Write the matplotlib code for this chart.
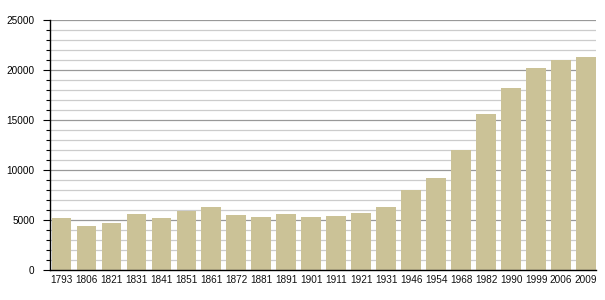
#!/usr/bin/env python3

import numpy as np
import matplotlib.pyplot as plt
from matplotlib.ticker import MultipleLocator

years = ['1793', '1806', '1821', '1831', '1841', '1851', '1861', '1872', '1881', '1891', '1901',
         '1911', '1921', '1931', '1946', '1954', '1968', '1982', '1990', '1999', '2006', '2009']
population = [5200, 4400, 4730, 5600, 5200, 5900, 6270, 5500, 5300, 5600, 5300,
              5400, 5730, 6300, 7970, 9200, 12000, 15600, 18200, 20200, 21000, 21300]

plt.rcParams['font.family'] = ['Liberation Sans', 'DejaVu Sans']

fig = plt.figure(figsize=(6.05, 3.0), dpi=100, facecolor='white')
ax = fig.add_axes([50/605, 30/300, 546/605, 250/300])

x = np.arange(len(years))
ax.bar(x, population, width=0.79, color='#cbc297', zorder=3)

ax.set_xlim(-0.46, len(years) - 0.6)
ax.set_ylim(0, 25000)

ax.yaxis.set_major_locator(MultipleLocator(5000))
ax.yaxis.set_minor_locator(MultipleLocator(1000))
ax.grid(axis='y', which='major', color='#999999', linewidth=0.9, zorder=1)
ax.grid(axis='y', which='minor', color='#cccccc', linewidth=0.9, zorder=1)

ax.set_xticks(x)
ax.set_xticklabels(years)
ax.tick_params(axis='x', length=0, pad=3.5, labelsize=7.2, colors='#111111')
ax.tick_params(axis='y', which='major', length=5, width=0.8, pad=6, labelsize=7.2)
ax.tick_params(axis='y', which='minor', length=3, width=0.8)

for side in ['top', 'right']:
    ax.spines[side].set_visible(False)
ax.spines['left'].set_linewidth(1.0)
ax.spines['bottom'].set_linewidth(1.0)
ax.spines['left'].set_zorder(4)
ax.spines['bottom'].set_zorder(4)

fig.savefig('out.png', dpi=100)
